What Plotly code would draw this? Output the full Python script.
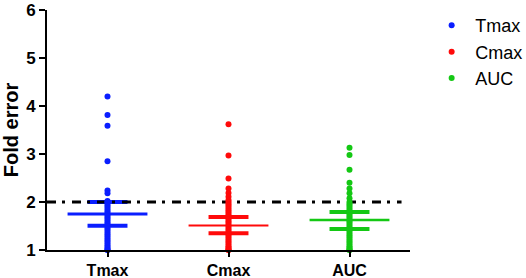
import plotly.graph_objects as go

categories = ["Tmax", "Cmax", "AUC"]
colors = ["#0a1eff", "#ff0a0a", "#14c814"]

tmax_values = [4.2, 3.81, 3.59, 2.85, 2.24, 2.18, 2.02, 2.0, 1.98, 1.94, 1.9, 1.86, 1.82,
               1.78, 1.74, 1.7, 1.66, 1.62, 1.58, 1.54, 1.5, 1.46, 1.42, 1.38, 1.34, 1.3,
               1.26, 1.22, 1.18, 1.14, 1.1, 1.06, 1.03, 1.0, 1.0]
cmax_values = [3.62, 2.97, 2.49, 2.28, 2.19, 2.11, 2.04, 2.0, 1.96, 1.92, 1.88, 1.84, 1.8,
               1.76, 1.72, 1.68, 1.64, 1.6, 1.56, 1.52, 1.48, 1.44, 1.4, 1.36, 1.32, 1.28,
               1.24, 1.2, 1.16, 1.12, 1.08, 1.05, 1.02, 1.0, 1.0]
auc_values = [3.13, 2.98, 2.67, 2.4, 2.28, 2.18, 2.08, 2.0, 1.96, 1.92, 1.88, 1.84, 1.8,
              1.76, 1.72, 1.68, 1.64, 1.6, 1.56, 1.52, 1.48, 1.44, 1.4, 1.36, 1.32, 1.28,
              1.24, 1.2, 1.16, 1.12, 1.08, 1.05, 1.02, 1.0, 1.0]
series_values = [tmax_values, cmax_values, auc_values]

means = [1.75, 1.51, 1.625]
upper = [2.0, 1.69, 1.79]
lower = [1.505, 1.35, 1.44]
threshold = 2.0

y_ticks = [1, 2, 3, 4, 5, 6]

FONT = "Arial, Liberation Sans, sans-serif"
mean_widths = [3, 2, 2.5]
fig = go.Figure()

# mean and error bars
for i, col in enumerate(colors):
    mw = 0.33
    cw = 0.165
    fig.add_trace(go.Scatter(x=[i - mw, i + mw], y=[means[i], means[i]], mode="lines",
                             line=dict(color=col, width=mean_widths[i]), showlegend=False,
                             hoverinfo="skip"))
    for v in (upper[i], lower[i]):
        fig.add_trace(go.Scatter(x=[i - cw, i + cw], y=[v, v], mode="lines",
                                 line=dict(color=col, width=4), showlegend=False, hoverinfo="skip"))
    fig.add_trace(go.Scatter(x=[i, i], y=[lower[i], upper[i]], mode="lines",
                             line=dict(color=col, width=3), showlegend=False, hoverinfo="skip"))

# threshold line
fig.add_trace(go.Scatter(x=[-0.5, 2.43], y=[threshold, threshold], mode="lines",
                         line=dict(color="black", width=3, dash="9px,6px,3px,7px"),
                         showlegend=False, hoverinfo="skip"))

for i, (cat, vals, col) in enumerate(zip(categories, series_values, colors)):
    fig.add_trace(go.Scatter(x=[i] * len(vals), y=vals, mode="markers", name=cat,
                             marker=dict(color=col, size=6), cliponaxis=False))

fig.update_layout(
    width=526, height=278,
    margin=dict(l=47, r=116, t=10, b=28, autoexpand=False),
    plot_bgcolor="white", paper_bgcolor="white",
    font=dict(family=FONT, color="black"),
    legend=dict(x=1.05, y=1.012, xanchor="left", yanchor="top", font=dict(size=18),
                tracegroupgap=0, itemwidth=37),
)
fig.update_xaxes(range=[-0.5, 2.5], tickvals=[0, 1, 2], ticktext=categories, automargin=False,
                 showgrid=False, zeroline=False, showline=True, linecolor="black", linewidth=2,
                 ticks="outside", ticklen=5, tickwidth=2, tickcolor="black",
                 tickfont=dict(size=16, weight="bold"))
fig.update_yaxes(range=[1, 6], tickvals=y_ticks, showgrid=False, zeroline=False, automargin=False,
                 showline=True, linecolor="black", linewidth=2,
                 ticks="outside", ticklen=6, tickwidth=2, tickcolor="black",
                 tickfont=dict(size=17, weight="bold"),
                 title=dict(text="<b>Fold error</b>", font=dict(size=20), standoff=5))

fig.write_html("out.html", config={"displayModeBar": False},
               post_script="document.body.style.margin='0';")
